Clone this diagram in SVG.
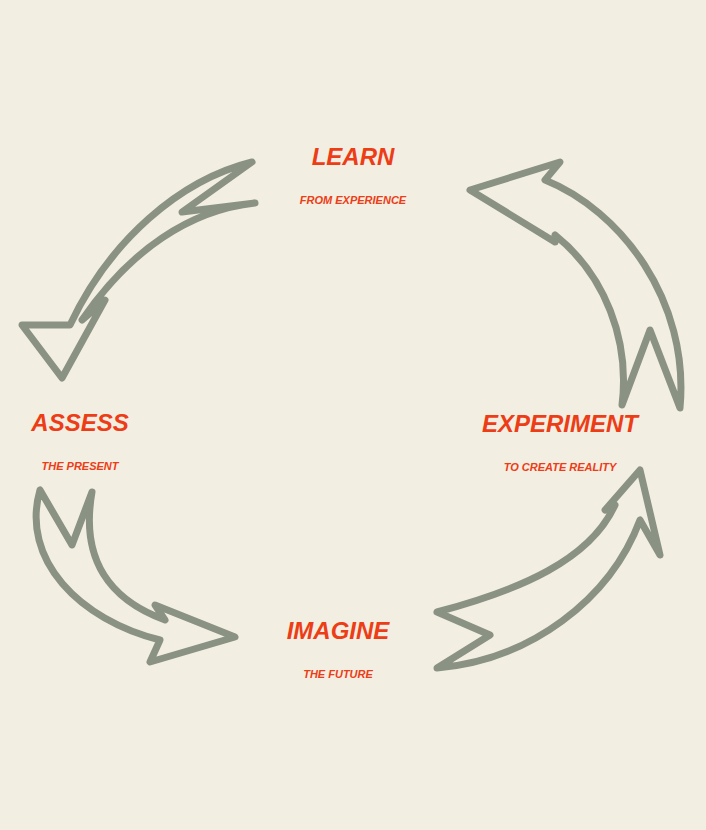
<svg xmlns="http://www.w3.org/2000/svg" width="706" height="830" viewBox="0 0 706 830">
<style>
.arr{fill:none;stroke:#8a9283;stroke-width:7;stroke-linejoin:round;stroke-linecap:round}
.t{font-family:"Liberation Sans",sans-serif;font-weight:bold;font-style:italic;fill:#ec3d17;text-anchor:middle}
.big{font-size:24px}
.sm{font-size:11px}
</style>
<rect width="706" height="830" fill="#f3eee2"/>
<g id="connectors">
<path class="arr" d="M252,162 C180,180 110,240 70,325 L22,325 L62,378 L105,300 L82,320 C130,250 190,210 255,203 L182,212 Z"/>
<path class="arr" d="M622,405 C630,340 605,275 555,235 L555,242 L470,190 L560,162 L545,180 C620,210 690,300 680,408 L650,330 Z"/>
<path class="arr" d="M437,612 C520,590 590,560 615,505 L605,510 L640,470 L660,555 L640,520 C610,600 530,660 437,668 L490,635 Z"/>
<path class="arr" d="M40,490 C20,560 80,620 160,640 L150,662 L235,637 L155,605 L165,620 C110,600 80,560 92,492 L72,545 Z"/>
</g>
<g id="learn"><text class="t big" x="353" y="165">LEARN</text><text class="t sm" x="353" y="204">FROM EXPERIENCE</text></g>
<g id="assess"><text class="t big" x="80" y="431">ASSESS</text><text class="t sm" x="80" y="470">THE PRESENT</text></g>
<g id="experiment"><text class="t big" x="560" y="432">EXPERIMENT</text><text class="t sm" x="560" y="471">TO CREATE REALITY</text></g>
<g id="imagine"><text class="t big" x="338" y="639">IMAGINE</text><text class="t sm" x="338" y="678">THE FUTURE</text></g>
</svg>
